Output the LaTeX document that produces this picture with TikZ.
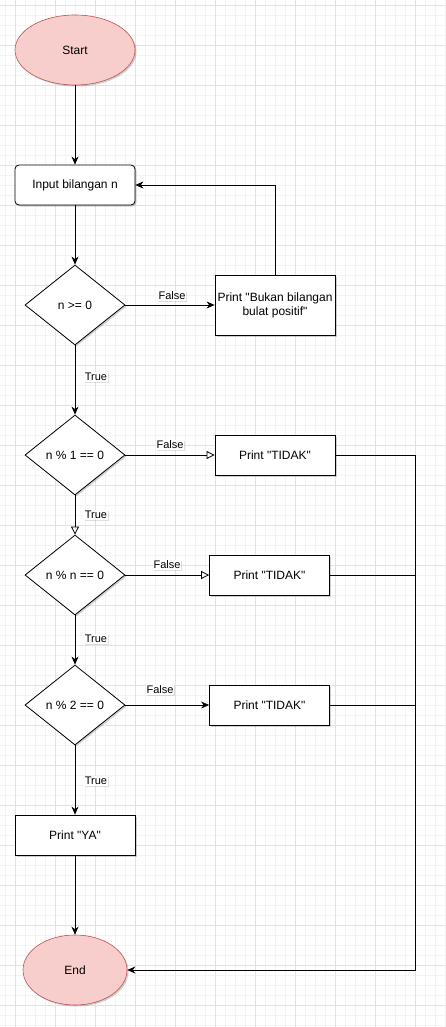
\documentclass[tikz,border=0pt]{standalone}
\usepackage{fontspec}
\setmainfont{Liberation Sans}[Ligatures=TeXOff]
\usetikzlibrary{shapes.geometric,arrows.meta,shadows}
\definecolor{termfill}{HTML}{F8CECC}
\definecolor{termline}{HTML}{B85450}
\definecolor{gridminor}{HTML}{F3F3F3}
\definecolor{gridmajor}{HTML}{E2E2E2}
\tikzset{
  shd/.style={drop shadow={shadow xshift=1.5pt, shadow yshift=-1.5pt, opacity=0.18, fill=black}},
  term/.style={ellipse, draw=termline, fill=termfill, line width=0.6pt, minimum height=70pt, inner sep=0pt, font=\fontsize{12}{14}\selectfont, shd},
  procbox/.style={rectangle, draw=black, fill=white, line width=0.8pt, minimum width=120pt, minimum height=40pt, inner sep=0pt, font=\fontsize{12}{14}\selectfont, align=center, shd},
  decision/.style={diamond, draw=black, fill=white, line width=0.8pt, minimum width=100pt, minimum height=80pt, aspect=1.25, inner sep=0pt, font=\fontsize{12}{14}\selectfont, shd},
  conn/.style={draw=black, line width=0.8pt, -{Stealth[length=8pt, width=7pt, inset=2.5pt]}},
  hconn/.style={draw=black, line width=0.8pt, -{Triangle[open, length=8pt, width=8pt, fill=white]}},
  plainline/.style={draw=black, line width=0.8pt},
  elabel/.style={fill=white, inner sep=1pt, font=\fontsize{11}{13}\selectfont, drop shadow={shadow xshift=1pt, shadow yshift=-1pt, opacity=0.12, fill=black}}
}
\begin{document}
\begin{tikzpicture}[x=1pt, y=-1pt]
\useasboundingbox (0,0) rectangle (445,1027);
\fill[white] (0,0) rectangle (445,1027);
\foreach \i in {-5,5,...,445} \draw[gridminor, line width=0.5pt] (\i,0) -- (\i,1027);
\foreach \j in {-5,5,...,1025} \draw[gridminor, line width=0.5pt] (0,\j) -- (445,\j);
\foreach \i in {15,55,...,445} \draw[gridmajor, line width=0.6pt] (\i,0) -- (\i,1027);
\foreach \j in {5,45,...,1025} \draw[gridmajor, line width=0.6pt] (0,\j) -- (445,\j);

\node[term, minimum width=120pt] (start) at (75,50) {Start};
\node[procbox, rounded corners=4pt] (input) at (75,185) {Input bilangan n};
\node[decision] (d0) at (75,305) {n >= 0};
\node[procbox, minimum height=60pt] (pb) at (275,305) {Print "Bukan bilangan\\bulat positif"};
\node[decision] (d1) at (75,455) {n \% 1 == 0};
\node[procbox] (t1) at (275,455) {Print "TIDAK"};
\node[decision] (d2) at (75,575) {n \% n == 0};
\node[procbox] (t2) at (269.5,575) {Print "TIDAK"};
\node[decision] (d3) at (75,705) {n \% 2 == 0};
\node[procbox] (t3) at (269.5,705) {Print "TIDAK"};
\node[procbox] (ya) at (75,835) {Print "YA"};
\node[term, minimum width=104pt] (end) at (75,970) {End};
\coordinate (rx) at (415,970);

\draw[conn] (start) -- (input);
\draw[conn] (input) -- (d0);
\draw[conn] (d0) -- (pb);
\draw[conn] (pb.north) |- (input.east);
\draw[conn] (d0) -- (d1);
\draw[hconn] (d1) -- (t1);
\draw[hconn] (d1) -- (d2);
\draw[hconn] (d2) -- (t2);
\draw[conn] (d2) -- (d3);
\draw[conn] (d3) -- (t3);
\draw[conn] (d3) -- (ya);
\draw[conn] (ya) -- (end);
\draw[conn] (t1.east) -| (rx) -- (end.east);
\draw[plainline] (t2.east) -- (t2.east -| rx);
\draw[plainline] (t3.east) -- (t3.east -| rx);

\node[elabel] (lf0) at (172,296) {False};
\node[elabel] (lt0) at (96,377) {True};
\node[elabel] (lf1) at (170,445) {False};
\node[elabel] (lt1) at (96,515) {True};
\node[elabel] (lf2) at (167,565) {False};
\node[elabel] (lt2) at (96,639) {True};
\node[elabel] (lf3) at (160,690) {False};
\node[elabel] (lt3) at (96,781) {True};
\end{tikzpicture}
\end{document}
